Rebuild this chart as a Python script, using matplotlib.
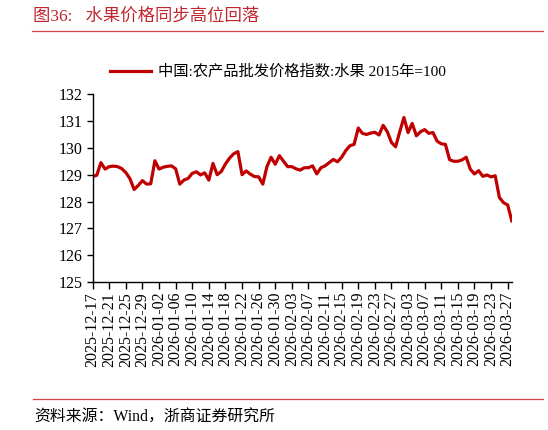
import pandas as pd
import matplotlib
matplotlib.use("Agg")
import matplotlib.pyplot as plt
from matplotlib.lines import Line2D

plt.rcParams['font.family'] = ['Liberation Serif', 'Noto Sans CJK SC']

dates = pd.date_range("2025-12-17", "2026-03-28", freq="D")
fruit = [128.93, 128.98, 129.45, 129.21, 129.30, 129.32, 129.30, 129.23, 129.08, 128.85,
         128.45, 128.60, 128.78, 128.65, 128.66, 129.52, 129.21, 129.28, 129.31, 129.33,
         129.22, 128.65, 128.80, 128.86, 129.05, 129.11, 128.99, 129.07, 128.80, 129.42,
         129.00, 129.12, 129.40, 129.62, 129.78, 129.86, 129.00, 129.14, 129.02, 128.93,
         128.92, 128.65, 129.30, 129.65, 129.39, 129.71, 129.50, 129.30, 129.30, 129.22,
         129.17, 129.26, 129.26, 129.33, 129.03, 129.26, 129.33, 129.45, 129.57, 129.48,
         129.65, 129.90, 130.08, 130.13, 130.74, 130.54, 130.50, 130.55, 130.58, 130.48,
         130.84, 130.60, 130.20, 130.04, 130.60, 131.13, 130.57, 130.91, 130.45, 130.60,
         130.68, 130.54, 130.57, 130.25, 130.15, 130.13, 129.56, 129.50, 129.50, 129.55,
         129.65, 129.20, 129.03, 129.15, 128.94, 128.99, 128.92, 128.96, 128.15, 127.96,
         127.87, 127.28]
label_fruit = "中国:农产品批发价格指数:水果 2015年=100"
title = "图36:   水果价格同步高位回落"
source = "资料来源：Wind，浙商证券研究所"

red = "#C00000"

fig = plt.figure(figsize=(5.48, 4.30), dpi=100)
ax = fig.add_axes([0.169, 0.344, 0.765, 0.437])

x = list(range(len(fruit)))
ax.plot(x, fruit, color=red, lw=2.3, solid_joinstyle="round", label=label_fruit)

ax.set_xlim(0, len(fruit) - 1)
ax.set_ylim(125, 132)
ax.set_yticks(range(125, 133))
tick_pos = list(range(0, len(dates), 4))
ax.set_xticks(tick_pos)
ax.set_xticklabels([dates[i].strftime("%Y-%m-%d") for i in tick_pos], rotation=90)

for s in ["top", "right"]:
    ax.spines[s].set_visible(False)
for s in ["left", "bottom"]:
    ax.spines[s].set_linewidth(1.0)
ax.tick_params(axis="y", direction="out", length=4, width=1, labelsize=11.5, pad=3)
ax.tick_params(axis="x", direction="out", length=5, width=1, labelsize=11.5, pad=2)

fig.legend(handles=[Line2D([], [], color=red, lw=2.3)], labels=[label_fruit],
           loc="center", bbox_to_anchor=(0.507, 0.833), frameon=False,
           fontsize=11, handlelength=2.7, handletextpad=0.4)

fig.text(0.06, 0.962, title, color="#C0262D", fontsize=12.5, va="center", ha="left")
fig.add_artist(Line2D([0.058, 0.99], [0.928, 0.928], color="#D04545", lw=0.9))
fig.add_artist(Line2D([0.06, 0.99], [0.072, 0.072], color="#D04545", lw=0.9))
fig.text(0.062, 0.028, source, color="black", fontsize=11.4, va="center", ha="left")

fig.savefig("out.png", dpi=100)
